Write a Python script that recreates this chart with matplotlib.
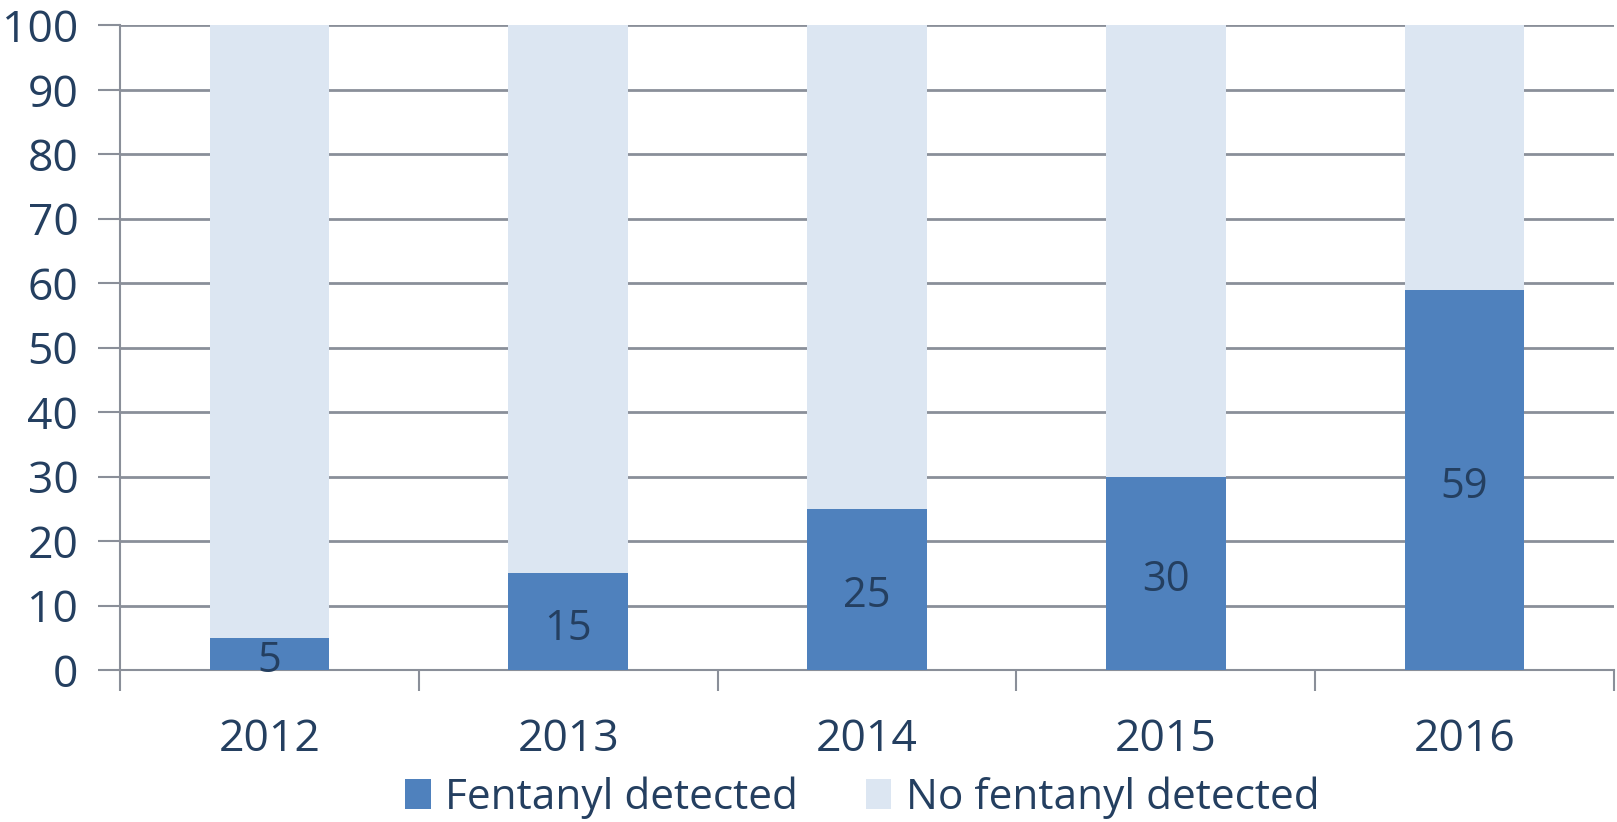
import matplotlib.pyplot as plt
from matplotlib.ticker import MultipleLocator

plt.rcParams['font.family'] = ['Open Sans', 'DejaVu Sans']

years = ["2012", "2013", "2014", "2015", "2016"]
fentanyl = [5, 15, 25, 30, 59]
no_fentanyl = [95, 85, 75, 70, 41]

DARK = "#4F81BD"
LIGHT = "#DCE6F2"
TEXT = "#243F60"
GRID = "#8A8F99"

fig = plt.figure(figsize=(16.17, 8.22), dpi=100)
ax = fig.add_axes([0.0742, 0.1849, 0.9240, 0.7843])

x = list(range(len(years)))
b1 = ax.bar(x, fentanyl, width=0.40, color=DARK, label="Fentanyl detected", zorder=3)
b2 = ax.bar(x, no_fentanyl, width=0.40, bottom=fentanyl, color=LIGHT,
            label="No fentanyl detected", zorder=3)

# value labels sit a little low in the original, like Calibri
for rect, v in zip(b1, fentanyl):
    ax.annotate(str(v), (rect.get_x() + rect.get_width() / 2, v / 2),
                xytext=(0, -5), textcoords="offset points",
                ha="center", va="center", fontsize=30, color=TEXT, zorder=4)

ax.set_xlim(-0.5, len(years) - 0.5)
ax.set_ylim(0, 100)
ax.yaxis.set_major_locator(MultipleLocator(10))
ax.set_xticks(x)
ax.set_xticklabels(years)
ax.set_xticks([i - 0.5 for i in range(len(years) + 1)], minor=True)

ax.grid(axis="y", color=GRID, linewidth=2, zorder=0)
ax.set_axisbelow(True)

for side in ["top", "right"]:
    ax.spines[side].set_visible(False)
for side in ["left", "bottom"]:
    ax.spines[side].set_color(GRID)
    ax.spines[side].set_linewidth(1.5)

ax.tick_params(axis="y", length=16, width=1.5, color=GRID, labelsize=32,
               labelcolor=TEXT, pad=14)
ax.tick_params(axis="x", which="major", length=0, labelsize=32,
               labelcolor=TEXT, pad=34)
ax.tick_params(axis="x", which="minor", length=15, width=1.5, color=GRID)

leg = ax.legend(loc="center", bbox_to_anchor=(0.497, -0.198), ncol=2, frameon=False,
                fontsize=30.5, handlelength=0.6, handleheight=0.72,
                handletextpad=0.35, columnspacing=1.6, labelcolor=TEXT)

fig.savefig("out.png", dpi=100)
